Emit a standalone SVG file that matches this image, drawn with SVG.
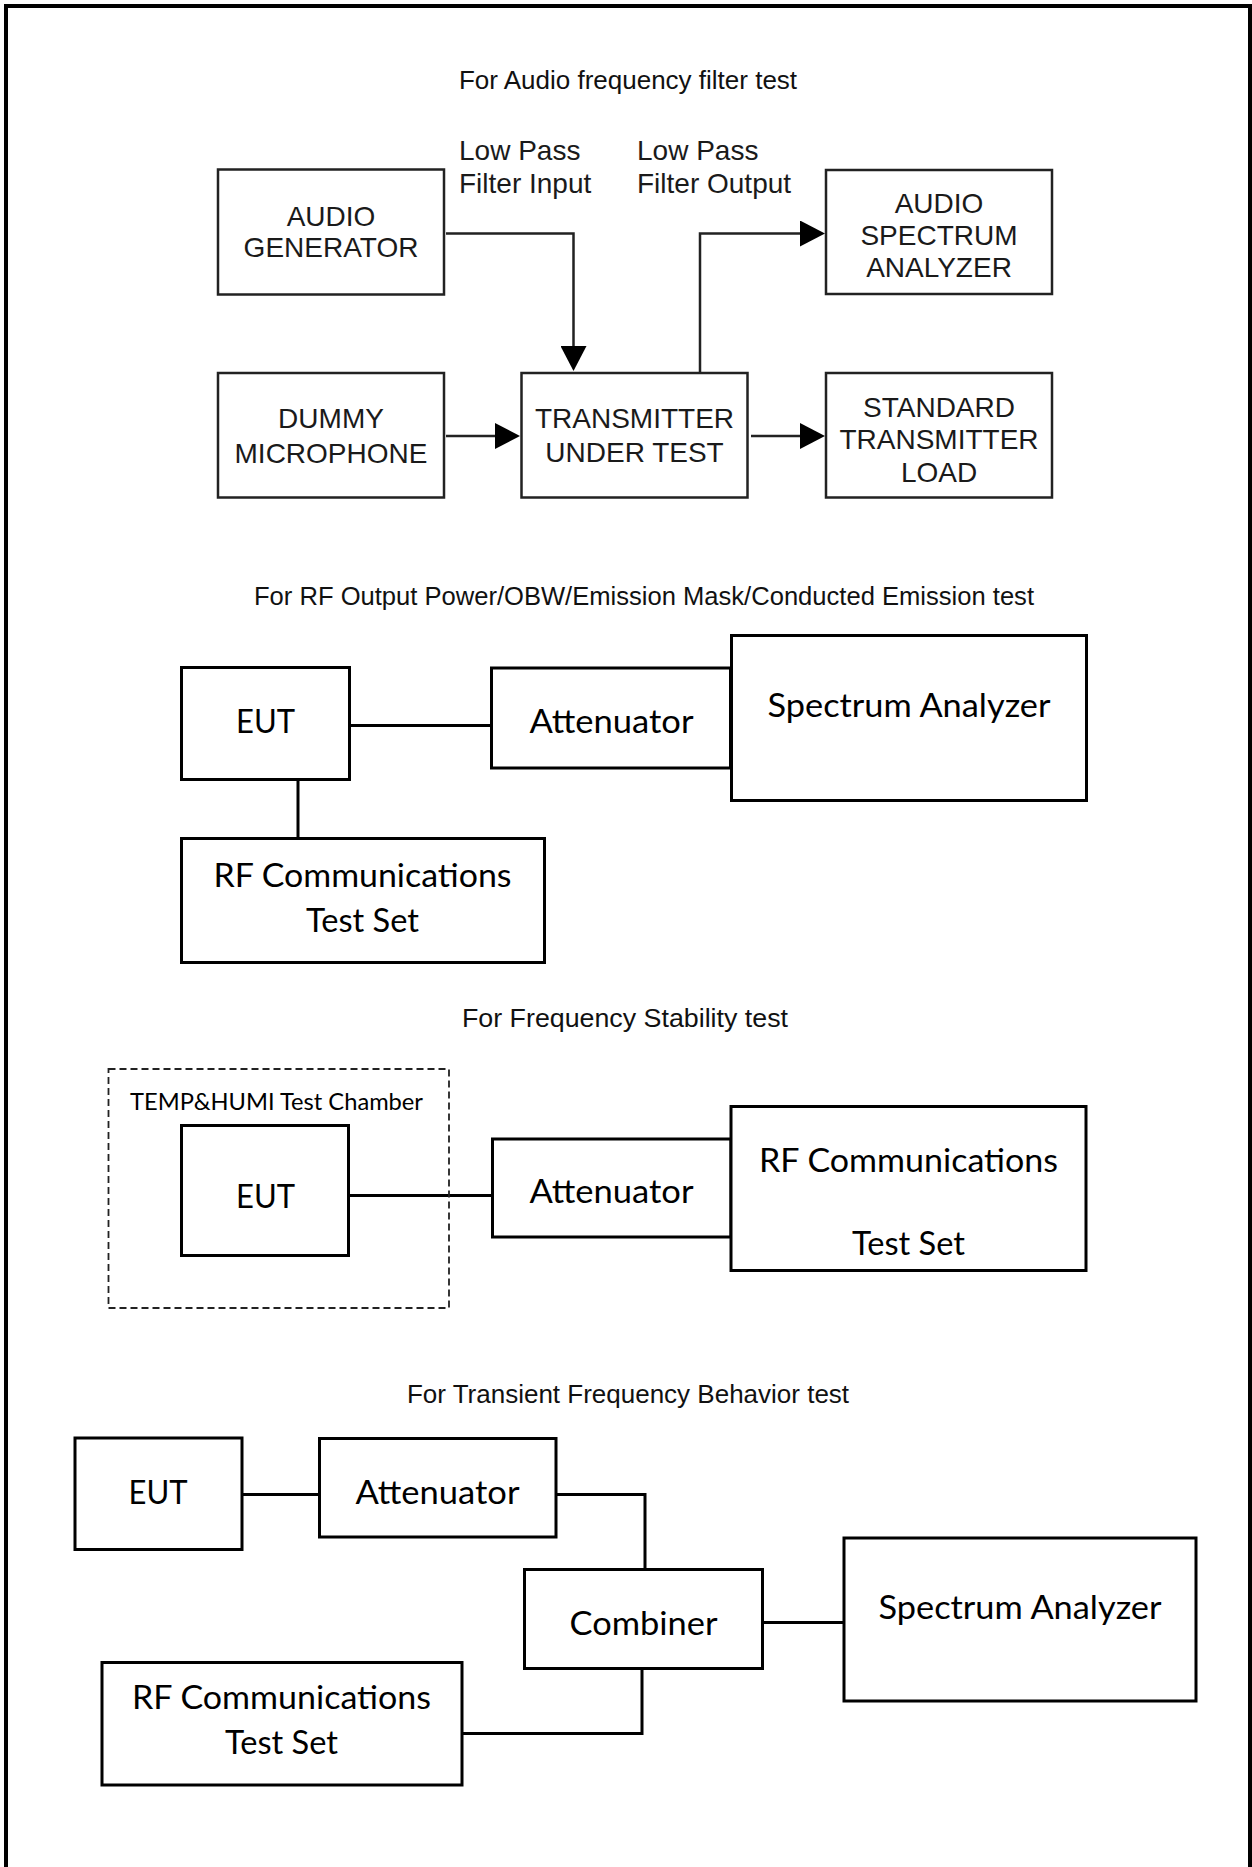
<svg xmlns="http://www.w3.org/2000/svg" width="1252" height="1867" viewBox="0 0 1252 1867">
<style>
.title{font-family:"Liberation Sans",Arial,sans-serif;font-size:26px;fill:#111;text-anchor:middle}
.a{font-family:"Liberation Sans",Arial,sans-serif;font-size:28px;fill:#1a1a1a;text-anchor:middle}
.al{font-family:"Liberation Sans",Arial,sans-serif;font-size:28px;fill:#1a1a1a}
.c{font-family:Lato,"Open Sans",sans-serif;font-size:32px;fill:#000;text-anchor:middle}
.cs{font-family:Lato,"Open Sans",sans-serif;font-size:23px;fill:#000}
.b1{fill:#fff;stroke:#222;stroke-width:2.5}
.b{fill:#fff;stroke:#000;stroke-width:3}
.l1{fill:none;stroke:#222;stroke-width:2.5}
.l{fill:none;stroke:#000;stroke-width:3}
.dash{fill:none;stroke:#222;stroke-width:1.8;stroke-dasharray:7 4}
</style>
<defs>
<marker id="arr" markerUnits="userSpaceOnUse" viewBox="0 0 25 26" refX="0" refY="13" markerWidth="25" markerHeight="26" orient="auto">
<path d="M0,0 L25,13 L0,26 Z" fill="#000"/>
</marker>
</defs>
<rect x="0" y="0" width="1252" height="1867" fill="#fff"/>
<g id="frame">
<path d="M6,1867 V6 H1250 V1867" fill="none" stroke="#000" stroke-width="4"/>
</g>

<g id="titles">
<text class="title" x="628" y="89">For Audio frequency filter test</text>
<text class="title" x="644" y="605" textLength="780" lengthAdjust="spacingAndGlyphs">For RF Output Power/OBW/Emission Mask/Conducted Emission test</text>
<text class="title" x="625" y="1027" textLength="326" lengthAdjust="spacingAndGlyphs">For Frequency Stability test</text>
<text class="title" x="628" y="1403">For Transient Frequency Behavior test</text>
</g>

<g id="connectors">
<path class="l1" d="M446,233.5 H573.5 V346" marker-end="url(#arr)"/>
<path class="l1" d="M700,373 V233.5 H800" marker-end="url(#arr)"/>
<path class="l1" d="M446,436 H495" marker-end="url(#arr)"/>
<path class="l1" d="M751,436 H800" marker-end="url(#arr)"/>
<path class="l" d="M350,725.5 H491"/>
<path class="l" d="M298,781 V838"/>
<path class="l" d="M350,1195.5 H492"/>
<path class="l" d="M243,1494.5 H319"/>
<path class="l" d="M557,1494.5 H645 V1569"/>
<path class="l" d="M763,1622.5 H844"/>
<path class="l" d="M462,1733.5 H642 V1669"/>
</g>

<g id="audio-generator">
<rect class="b1" x="218" y="169.5" width="226" height="125"/>
<text class="a" x="331" y="226">AUDIO</text>
<text class="a" x="331" y="257">GENERATOR</text>
</g>
<g id="lpf-input-label">
<text class="al" x="459" y="160">Low Pass</text>
<text class="al" x="459" y="193">Filter Input</text>
</g>
<g id="lpf-output-label">
<text class="al" x="637" y="160">Low Pass</text>
<text class="al" x="637" y="193">Filter Output</text>
</g>
<g id="audio-spectrum-analyzer">
<rect class="b1" x="826" y="170" width="226" height="124"/>
<text class="a" x="939" y="213">AUDIO</text>
<text class="a" x="939" y="245">SPECTRUM</text>
<text class="a" x="939" y="277">ANALYZER</text>
</g>
<g id="dummy-microphone">
<rect class="b1" x="218" y="373" width="226" height="124.5"/>
<text class="a" x="331" y="428">DUMMY</text>
<text class="a" x="331" y="462.5">MICROPHONE</text>
</g>
<g id="transmitter-under-test">
<rect class="b1" x="521.5" y="373" width="226" height="124.5"/>
<text class="a" x="634.5" y="428">TRANSMITTER</text>
<text class="a" x="634.5" y="462">UNDER TEST</text>
</g>
<g id="standard-transmitter-load">
<rect class="b1" x="826" y="373" width="226" height="124.5"/>
<text class="a" x="939" y="417">STANDARD</text>
<text class="a" x="939" y="448.5">TRANSMITTER</text>
<text class="a" x="939" y="482">LOAD</text>
</g>

<g id="eut-2">
<rect class="b" x="181.5" y="667.5" width="168" height="112"/>
<text class="c" x="265.5" y="733" textLength="59" lengthAdjust="spacingAndGlyphs">EUT</text>
</g>
<g id="attenuator-2">
<rect class="b" x="491.5" y="668" width="239" height="100"/>
<text class="c" x="611.5" y="733" textLength="164" lengthAdjust="spacingAndGlyphs">Attenuator</text>
</g>
<g id="spectrum-analyzer-2">
<rect class="b" x="731.5" y="635.5" width="355" height="165"/>
<text class="c" x="909" y="716.5" textLength="283" lengthAdjust="spacingAndGlyphs">Spectrum Analyzer</text>
</g>
<g id="rf-test-set-2">
<rect class="b" x="181.5" y="838.5" width="363" height="124"/>
<text class="c" x="362.5" y="886.5" textLength="298" lengthAdjust="spacingAndGlyphs">RF Communications</text>
<text class="c" x="362.5" y="931.5" textLength="113" lengthAdjust="spacingAndGlyphs">Test Set</text>
</g>

<g id="chamber-3">
<rect class="dash" x="108.5" y="1069" width="340.5" height="239"/>
<text class="cs" x="130" y="1110" textLength="293" lengthAdjust="spacingAndGlyphs">TEMP&amp;HUMI Test Chamber</text>
</g>
<g id="eut-3">
<rect class="b" x="181.5" y="1125.5" width="167" height="130"/>
<text class="c" x="265.5" y="1208" textLength="59" lengthAdjust="spacingAndGlyphs">EUT</text>
</g>
<g id="attenuator-3">
<rect class="b" x="492.5" y="1139" width="238.5" height="98"/>
<text class="c" x="611.5" y="1203" textLength="164" lengthAdjust="spacingAndGlyphs">Attenuator</text>
</g>
<g id="rf-test-set-3">
<rect class="b" x="731" y="1106.5" width="355" height="164"/>
<text class="c" x="908.5" y="1171.5" textLength="299" lengthAdjust="spacingAndGlyphs">RF Communications</text>
<text class="c" x="908.5" y="1255" textLength="113" lengthAdjust="spacingAndGlyphs">Test Set</text>
</g>

<g id="eut-4">
<rect class="b" x="75" y="1438" width="167" height="111.5"/>
<text class="c" x="158" y="1504" textLength="59" lengthAdjust="spacingAndGlyphs">EUT</text>
</g>
<g id="attenuator-4">
<rect class="b" x="319.5" y="1438.5" width="236.5" height="98.5"/>
<text class="c" x="437.5" y="1504" textLength="164" lengthAdjust="spacingAndGlyphs">Attenuator</text>
</g>
<g id="combiner-4">
<rect class="b" x="524.5" y="1569.5" width="238" height="99"/>
<text class="c" x="643.5" y="1635" textLength="148" lengthAdjust="spacingAndGlyphs">Combiner</text>
</g>
<g id="spectrum-analyzer-4">
<rect class="b" x="844" y="1538" width="352" height="163"/>
<text class="c" x="1020" y="1619" textLength="283" lengthAdjust="spacingAndGlyphs">Spectrum Analyzer</text>
</g>
<g id="rf-test-set-4">
<rect class="b" x="102" y="1662.5" width="360" height="122.5"/>
<text class="c" x="281.5" y="1709" textLength="299" lengthAdjust="spacingAndGlyphs">RF Communications</text>
<text class="c" x="281.5" y="1754" textLength="113" lengthAdjust="spacingAndGlyphs">Test Set</text>
</g>
</svg>
